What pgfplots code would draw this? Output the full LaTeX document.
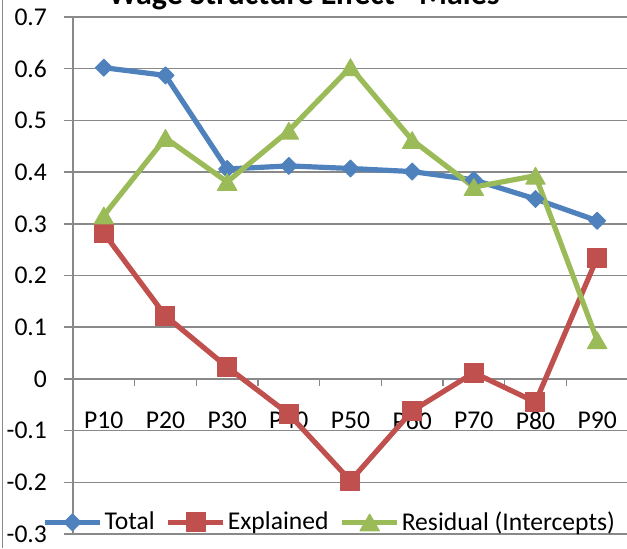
\documentclass[border=0pt]{standalone}
\usepackage{pgfplots}
\pgfplotsset{compat=1.18}
\usepackage{fontspec}
\setmainfont{Carlito}
\definecolor{xlblue}{HTML}{4F81BD}
\definecolor{xlred}{HTML}{C0504D}
\definecolor{xlgreen}{HTML}{9BBB59}
\definecolor{xlgrid}{HTML}{898989}
\begin{document}
\begin{tikzpicture}
\begin{axis}[
  at={(0,0)}, anchor=south west,
  scale only axis,
  width=277.5pt, height=258.5pt,
  xmin=0.5, xmax=9.5,
  ymin=-0.3, ymax=0.7,
  axis x line*=middle,
  axis y line*=left,
  axis line style={xlgrid, line width=0.75pt},
  xtick={1,...,9},
  xticklabels={P10,P20,P30,P40,P50,P60,P70,P80,P90},
  minor xtick={0.5,1.5,...,9.5},
  major x tick style={draw=none},
  ytick={-0.3,-0.2,-0.1,0,0.1,0.2,0.3,0.4,0.5,0.6,0.7},
  yticklabels={-0.3,-0.2,-0.1,0,0.1,0.2,0.3,0.4,0.5,0.6,0.7},
  ymajorgrids,
  grid style={xlgrid, line width=0.75pt},
  tick align=outside,
  major tick length=4.5pt, minor tick length=3.5pt,
  tick style={xlgrid, line width=0.75pt},
  ticklabel style={font=\fontsize{12.8}{14}\selectfont},
  xticklabel style={yshift=-8.5pt},
  yticklabel style={xshift=-5pt},
  clip=false,
  legend columns=-1,
  legend style={
    at={(rel axis cs:0,0)}, anchor=west, xshift=-15.5pt, yshift=5.8pt,
    draw=none, fill=none, inner sep=0pt,
    font=\fontsize{12.8}{14}\selectfont,
    /tikz/every even column/.append style={column sep=4.5pt},
    nodes={inner sep=1pt},
  },
  legend image code/.code={
    \draw[mark repeat=2,mark phase=2,#1] plot coordinates {(0pt,0pt) (13.75pt,0pt) (27.5pt,0pt)};
  },
  every axis plot/.append style={line width=2.6pt, line join=round},
]
% Total
\addplot[xlblue, mark=square*, mark size=3pt,
  mark options={solid, rotate=45, line width=0.5pt, fill=xlblue}]
  coordinates {(1,0.602) (2,0.587) (3,0.406) (4,0.412) (5,0.407)
               (6,0.401) (7,0.385) (8,0.348) (9,0.306)};
% Explained
\addplot[xlred, mark=square*, mark size=4.75pt,
  mark options={solid, line width=0.5pt, fill=xlred}]
  coordinates {(1,0.282) (2,0.122) (3,0.023) (4,-0.068) (5,-0.197)
               (6,-0.062) (7,0.012) (8,-0.045) (9,0.234)};
% Residual (Intercepts)
\addplot[xlgreen, mark=triangle*, mark size=5.6pt,
  mark options={solid, yshift=-1.4pt, line width=0.5pt, fill=xlgreen}]
  coordinates {(1,0.316) (2,0.466) (3,0.381) (4,0.480) (5,0.603)
               (6,0.462) (7,0.371) (8,0.393) (9,0.075)};
\legend{Total, Explained, Residual (Intercepts)}
\end{axis}
\node[anchor=base, font=\fontsize{16}{19}\selectfont\bfseries]
  at (115.5pt,265pt) {Wage Structure Effect - Males};
\draw[xlgrid, line width=0.75pt] (-35.2pt,-7pt) -- (-35.2pt,267pt);
\pgfresetboundingbox
\path[use as bounding box] (-36.5pt,-7pt) rectangle (277pt,267pt);
\end{tikzpicture}
\end{document}
